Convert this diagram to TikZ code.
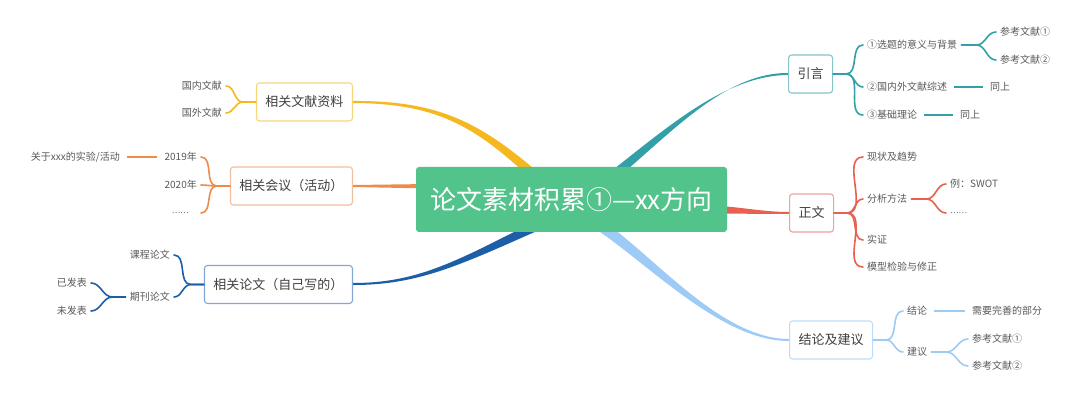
\documentclass[tikz,border=0pt]{standalone}
\usepackage{fontspec}
\setmainfont{Noto Sans CJK SC}
\definecolor{cgreen}{HTML}{52C38B}
\definecolor{cyel}{HTML}{F5B820}
\definecolor{cyelb}{HTML}{F8D57A}
\definecolor{corg}{HTML}{EF8A48}
\definecolor{corgb}{HTML}{F3BE9A}
\definecolor{cdb}{HTML}{1D5EA8}
\definecolor{cdbb}{HTML}{7FA8D6}
\definecolor{cteal}{HTML}{33A0A8}
\definecolor{ctealb}{HTML}{86C4C8}
\definecolor{cred}{HTML}{E8604F}
\definecolor{credb}{HTML}{EEA29A}
\definecolor{clb}{HTML}{9ECBF6}
\definecolor{clbb}{HTML}{BCDDFA}
\definecolor{leaftext}{HTML}{595959}
\definecolor{boxtext}{HTML}{3F3F3F}
\begin{document}
\begin{tikzpicture}[x=1pt,y=-1pt,
  box/.style={draw, rounded corners=3pt, fill=white, line width=1.1pt, minimum height=38pt, inner xsep=9pt, font=\fontsize{13}{15}\selectfont, text=boxtext},
  leaf/.style={inner xsep=4pt, inner ysep=2pt, font=\fontsize{10}{12}\selectfont, text=leaftext},
  br/.style={line width=1.6pt, line cap=round},
  ln/.style={line width=1.6pt, shorten <=3pt, shorten >=3pt}
  ]
\useasboundingbox (0,0) rectangle (1080,401);
% tapered main branches
\fill[cyel] (353,101) .. controls (440,100.5) and (482,122.5) .. (548.4,181.3) -- (541.6,188.7) .. controls (478,127.5) and (440,103.5) .. (353,103) -- cycle;
\fill[cteal] (788,73) .. controls (720,72.5) and (663,143) .. (598,194) -- (592,186) .. controls (657,137) and (720,75.5) .. (788,75) -- cycle;
\fill[cred] (789,212) .. controls (760,212) and (735,205.5) .. (700,205) -- (700,213.5) .. controls (735,213.5) and (760,214) .. (789,214) -- cycle;
\fill[clb] (789,339) .. controls (720,339) and (653,254) .. (598,217.4) -- (592,226.6) .. controls (647,262) and (720,341) .. (789,341) -- cycle;
\fill[cdb] (353,283) .. controls (420,283) and (459,259.5) .. (542.9,217.5) -- (547.1,226.5) .. controls (461,264.5) and (420,285) .. (353,285) -- cycle;
\fill[corg] (353,185) -- (430,184) -- (430,188.5) -- (353,187) -- cycle;

% central
\node[fill=cgreen, rounded corners=3pt, minimum width=311pt, minimum height=65pt, text=white, font=\fontsize{26}{30}\selectfont] (c) at (571.5,199.5) {论文素材积累①—xx方向};

% right boxes
\node[box, draw=ctealb, anchor=west] (yy) at (788,74) {引言};
\node[box, draw=credb, anchor=west] (zw) at (789,213) {正文};
\node[box, draw=clbb, anchor=west] (jl) at (789,340) {结论及建议};
% left boxes
\node[box, draw=cyelb, anchor=east] (wx) at (353,102) {相关文献资料};
\node[box, draw=corgb, anchor=east] (hy) at (353,186) {相关会议（活动）};
\node[box, draw=cdbb, anchor=east] (lw) at (353,284.5) {相关论文（自己写的）};

% 引言 children
\node[leaf, anchor=west] (y1) at (863,45) {①选题的意义与背景};
\node[leaf, anchor=west] (y2) at (863,87) {②国内外文献综述};
\node[leaf, anchor=west] (y3) at (863,115) {③基础理论};
\node[leaf, anchor=west] (y1a) at (996,32) {参考文献①};
\node[leaf, anchor=west] (y1b) at (996,60) {参考文献②};
\node[leaf, anchor=west] (y2a) at (986,87) {同上};
\node[leaf, anchor=west] (y3a) at (956,115) {同上};
\begin{scope}[cteal]
\foreach \t in {y1,y2,y3} \draw[br] (yy.east) -- ++(13,0) to[out=0,in=180] (\t.west);
\foreach \t in {y1a,y1b} \draw[br] (y1.east) -- ++(15,0) to[out=0,in=180] (\t.west);
\draw[ln] (y2.east) -- (y2a.west);
\draw[ln] (y3.east) -- (y3a.west);
\end{scope}

% 正文 children
\node[leaf, anchor=west] (z1) at (863,157) {现状及趋势};
\node[leaf, anchor=west] (z2) at (863,199) {分析方法};
\node[leaf, anchor=west] (z3) at (863,240) {实证};
\node[leaf, anchor=west] (z4) at (863,267) {模型检验与修正};
\node[leaf, anchor=west] (z2a) at (946,184) {例：SWOT};
\node[leaf, anchor=west, font=\fontsize{8}{10}\selectfont] (z2b) at (946,213) {……};
\begin{scope}[cred]
\foreach \t in {z1,z2,z3,z4} \draw[br] (zw.east) -- ++(13,0) to[out=0,in=180] (\t.west);
\foreach \t in {z2a,z2b} \draw[br] (z2.east) -- ++(15,0) to[out=0,in=180] (\t.west);
\end{scope}

% 结论及建议 children
\node[leaf, anchor=west] (j1) at (903,311) {结论};
\node[leaf, anchor=west] (j2) at (903,352) {建议};
\node[leaf, anchor=west] (j1a) at (968,311) {需要完善的部分};
\node[leaf, anchor=west] (j2a) at (968,339) {参考文献①};
\node[leaf, anchor=west] (j2b) at (968,366) {参考文献②};
\begin{scope}[clb]
\foreach \t in {j1,j2} \draw[br] (jl.east) -- ++(13,0) to[out=0,in=180] (\t.west);
\foreach \t in {j2a,j2b} \draw[br] (j2.east) -- ++(15,0) to[out=0,in=180] (\t.west);
\draw[ln] (j1.east) -- (j1a.west);
\end{scope}

% 相关文献资料 children
\node[leaf, anchor=east] (w1) at (226,86) {国内文献};
\node[leaf, anchor=east] (w2) at (226,113) {国外文献};
\begin{scope}[cyel]
\foreach \t in {w1,w2} \draw[br] (wx.west) -- ++(-13,0) to[out=180,in=0] (\t.east);
\end{scope}

% 相关会议 children
\node[leaf, anchor=east] (h1) at (201,157) {2019年};
\node[leaf, anchor=east] (h2) at (201,185) {2020年};
\node[leaf, anchor=east, inner xsep=12pt, font=\fontsize{8}{10}\selectfont] (h3) at (201,213) {……};
\node[leaf, anchor=east] (h1a) at (124,157) {关于xxx的实验/活动};
\begin{scope}[corg]
\foreach \t in {h1,h2,h3} \draw[br] (hy.west) -- ++(-13,0) to[out=180,in=0] (\t.east);
\draw[ln] (h1.west) -- (h1a.east);
\end{scope}

% 相关论文 children
\node[leaf, anchor=east] (l1) at (174,255) {课程论文};
\node[leaf, anchor=east] (l2) at (174,297) {期刊论文};
\node[leaf, anchor=east] (l2a) at (91,283) {已发表};
\node[leaf, anchor=east] (l2b) at (91,311) {未发表};
\begin{scope}[cdb]
\foreach \t in {l1,l2} \draw[br] (lw.west) -- ++(-13,0) to[out=180,in=0] (\t.east);
\foreach \t in {l2a,l2b} \draw[br] (l2.west) -- ++(-13,0) to[out=180,in=0] (\t.east);
\end{scope}
\end{tikzpicture}
\end{document}
